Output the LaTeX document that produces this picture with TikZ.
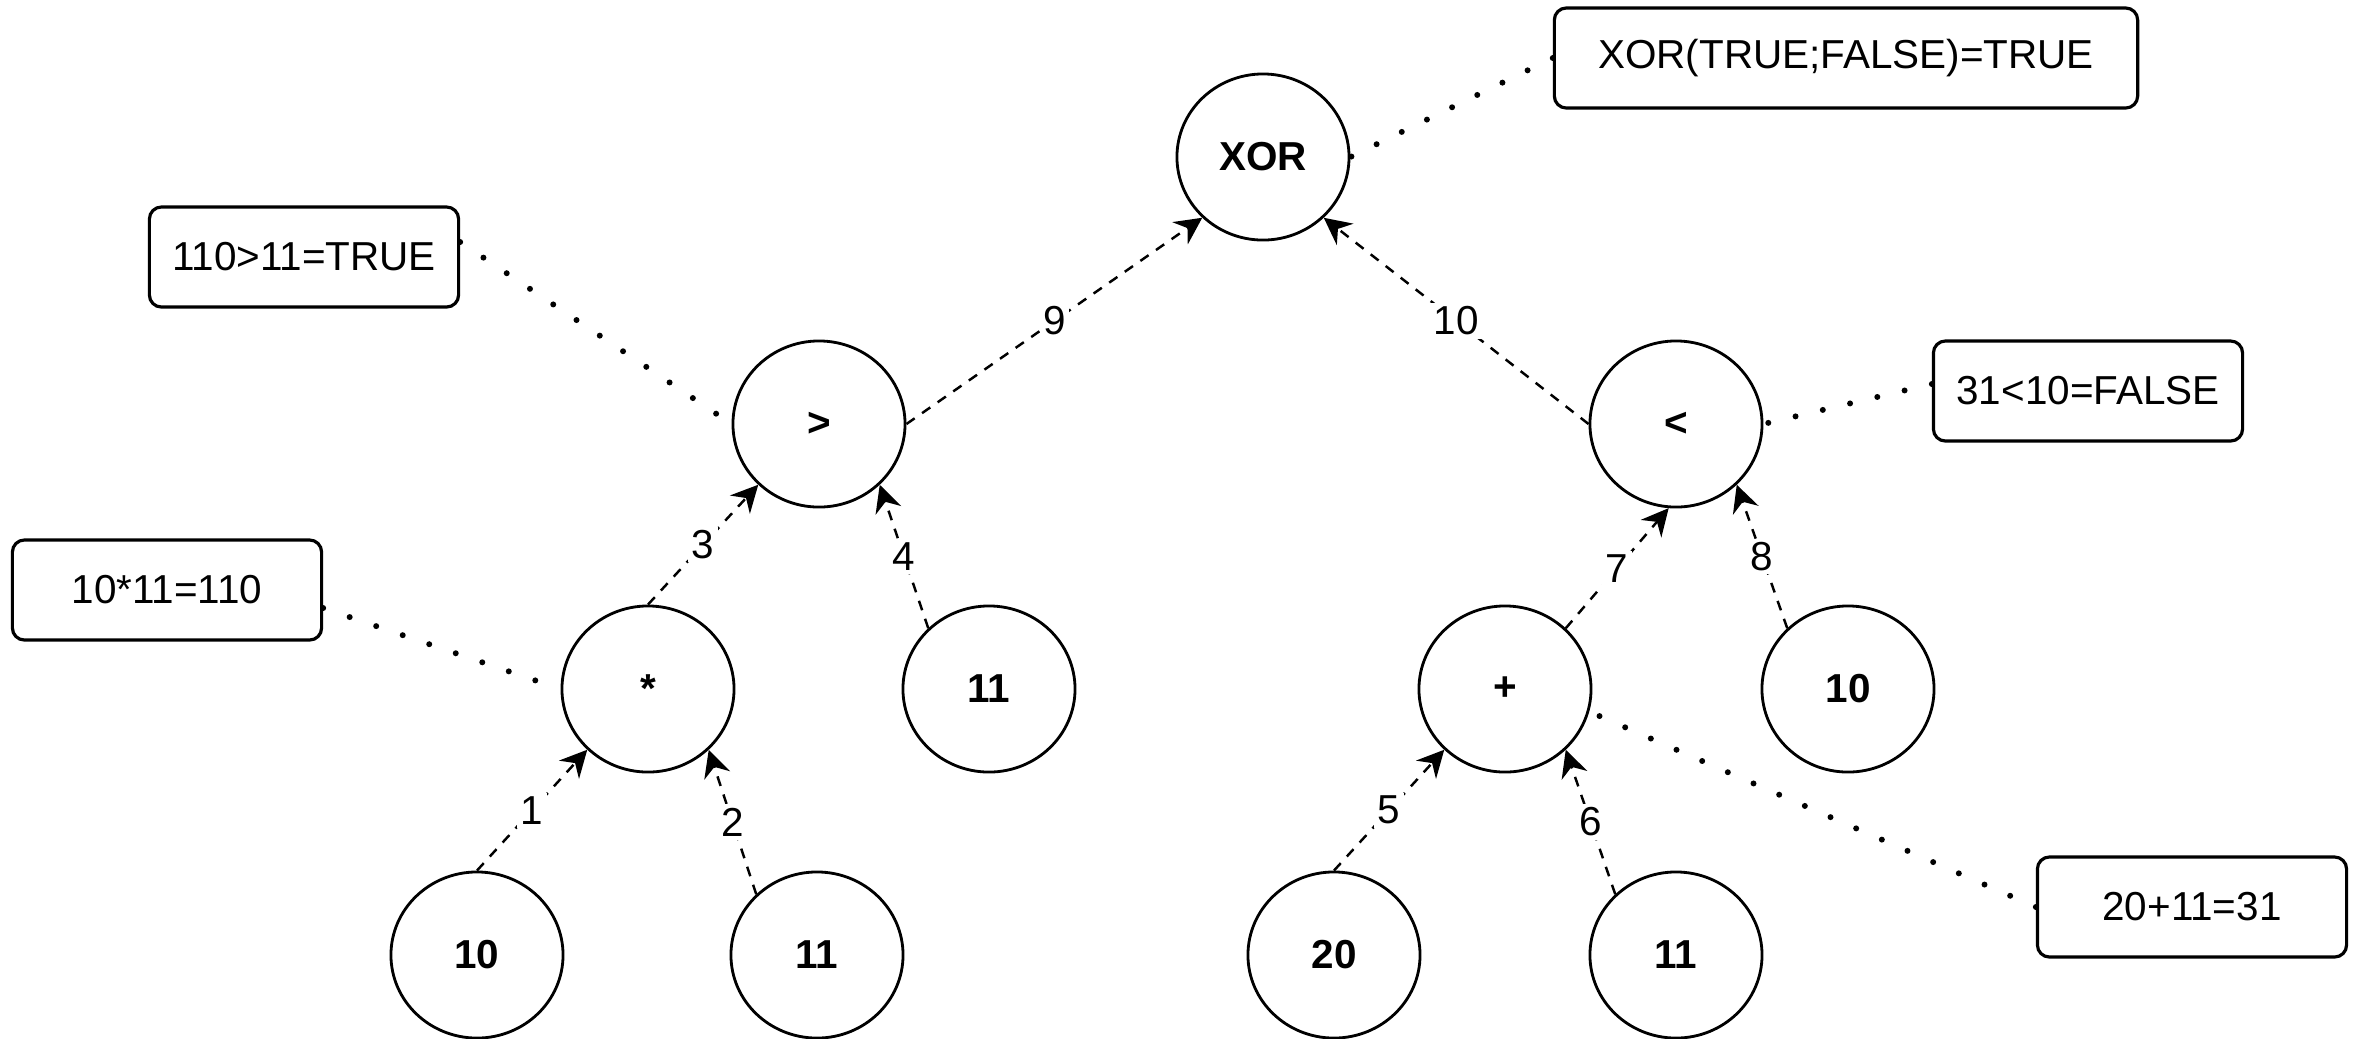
\documentclass[tikz,border=0pt]{standalone}
\usepackage{fontspec}
\setmainfont{Liberation Sans}
\usetikzlibrary{shapes.geometric,arrows.meta}

\begin{document}
\begin{tikzpicture}[x=0.01cm,y=-0.01cm,
  opnode/.style={ellipse, draw, line width=0.8pt, minimum width=1.72cm, minimum height=1.66cm,
    inner sep=0pt, font=\fontsize{11.5}{14}\selectfont\bfseries},
  infobox/.style={rectangle, rounded corners=0.12cm, draw, line width=0.9pt,
    minimum width=3.09cm, minimum height=1.0cm, inner sep=0pt, font=\fontsize{11.5}{14}\selectfont},
  flow/.style={line width=0.7pt, dash pattern=on 0.1cm off 0.09cm,
    -{Stealth[length=0.27cm,width=0.27cm,inset=0.09cm]}},
  steplabel/.style={fill=white, inner sep=1pt, font=\fontsize{11.5}{14}\selectfont},
  note/.style={line width=1.7pt, line cap=round, dash pattern=on 0pt off 0.28cm},
]
\useasboundingbox (0,0) rectangle (2356,1038);

% expression tree
\node[opnode] (xor) at (1263,157) {XOR};
\node[opnode] (gt)  at (819,424)  {>};
\node[opnode] (lt)  at (1676,424) {<};
\node[opnode] (mul) at (648,689)  {*};
\node[opnode] (e11a) at (989,689) {11};
\node[opnode] (add) at (1505,689) {+};
\node[opnode] (e10a) at (1848,689) {10};
\node[opnode] (e10b) at (477,955) {10};
\node[opnode] (e11b) at (817,955) {11};
\node[opnode] (e20)  at (1334,955) {20};
\node[opnode] (e11c) at (1676,955) {11};

% intermediate results
\node[infobox, minimum width=5.83cm] (rxor) at (1846,58) {XOR(TRUE;FALSE)=TRUE};
\node[infobox] (rgt)  at (304,257)  {110>11=TRUE};
\node[infobox] (rmul) at (167,590)  {10*11=110};
\node[infobox] (rlt)  at (2088,391) {31<10=FALSE};
\node[infobox] (radd) at (2192,907) {20+11=31};

% evaluation order
\draw[flow] (e10b.north) -- node[steplabel] {1} (mul.225);
\draw[flow] (e11b.135)   -- node[steplabel] {2} (mul.315);
\draw[flow] (mul.north)  -- node[steplabel] {3} (gt.225);
\draw[flow] (e11a.135)   -- node[steplabel] {4} (gt.315);
\draw[flow] (e20.north)  -- node[steplabel] {5} (add.225);
\draw[flow] (e11c.135)   -- node[steplabel] {6} (add.315);
\draw[flow] (add.45)     -- node[steplabel] {7} (lt.265);
\draw[flow] (e10a.135)   -- node[steplabel] {8} (lt.315);
\draw[flow] (gt.east)    -- node[steplabel] {9} (xor.225);
\draw[flow] (lt.west)    -- node[steplabel] {10} (xor.315);

% notes attached to operators
\draw[note] (rxor.west) -- (xor.east);
\draw[note] ([yshift=0.15cm]rgt.east) -- (gt.west);
\draw[note] ([yshift=-0.18cm]rmul.east) -- (mul.west);
\draw[note] ([yshift=0.07cm]rlt.west) -- (lt.east);
\draw[note] (radd.west) -- (add.-15);
\end{tikzpicture}
\end{document}
